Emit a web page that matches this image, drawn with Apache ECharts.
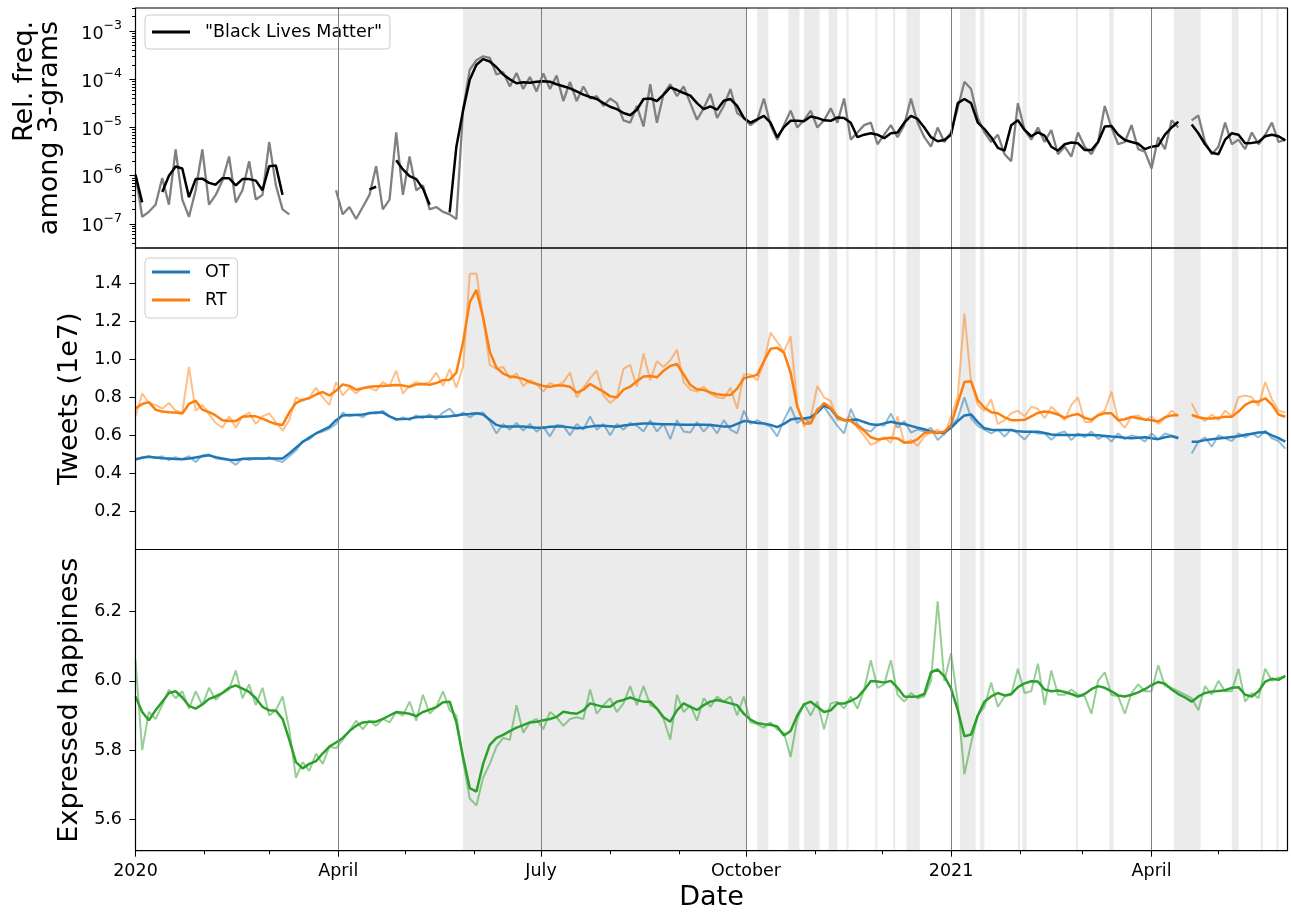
<!DOCTYPE html>
<html>
<head>
<meta charset="utf-8">
<script src="https://cdn.jsdelivr.net/npm/echarts@6/dist/echarts.min.js"></script>
<style>
  html, body { margin: 0; padding: 0; background: #fff; }
  #chart { width: 1291px; height: 913px; }
</style>
</head>
<body>
<div id="chart"></div>
<script>
const startDate = '2020-01-01';
const stepDays = 3;

// "Black Lives Matter" relative frequency among 3-grams
const blmRaw = [
  1.05e-6, 1.41e-7, 1.78e-7, 2.5e-7, 8.9e-7, 2.5e-7, 3.5e-6, 3.2e-7, 1.41e-7, 5.0e-7,
  3.5e-6, 2.5e-7, 4.0e-7, 7.9e-7, 2.5e-6, 2.8e-7, 5.0e-7, 2.0e-6, 3.2e-7, 4.0e-7,
  5.0e-6, 6.3e-7, 2.0e-7, 1.58e-7, null, null, null, null, null, null,
  5.0e-7, 1.58e-7, 2.24e-7, 1.26e-7, 2.24e-7, 4.0e-7, 1.58e-6, 2.0e-7, 3.2e-7, 7.9e-6,
  4.0e-7, 2.5e-6, 5.0e-7, 6.3e-7, 2.0e-7, 2.24e-7, 1.78e-7, 1.58e-7, 1.26e-7, 2.34e-5,
  1.58e-4, 2.5e-4, 3.0e-4, 2.8e-4, 1.26e-4, 1.41e-4, 7.1e-5, 1.35e-4, 6.3e-5, 1.12e-4,
  5.6e-5, 1.32e-4, 6.3e-5, 1.2e-4, 3.55e-5, 8.9e-5, 3.55e-5, 7.1e-5, 4.0e-5, 4.5e-5,
  2.8e-5, 4.0e-5, 3.2e-5, 1.41e-5, 1.26e-5, 2.8e-5, 1.05e-5, 7.9e-5, 1.26e-5, 5.0e-5,
  7.9e-5, 4.5e-5, 7.1e-5, 3.2e-5, 1.45e-5, 2.5e-5, 5.0e-5, 1.58e-5, 2.8e-5, 6.3e-5,
  2.0e-5, 1.58e-5, 1.12e-5, 1.41e-5, 4.0e-5, 1.12e-5, 5.6e-6, 1.12e-5, 2.24e-5, 1.0e-5,
  1.41e-5, 2.24e-5, 1.0e-5, 1.41e-5, 2.5e-5, 1.26e-5, 4.0e-5, 5.6e-6, 7.9e-6, 1.12e-5,
  1.26e-5, 4.5e-6, 7.1e-6, 1.12e-5, 6.3e-6, 1.12e-5, 4.0e-5, 1.26e-5, 6.3e-6, 4.0e-6,
  1.0e-5, 5.0e-6, 7.9e-6, 2.5e-5, 8.9e-5, 6.3e-5, 1.58e-5, 7.9e-6, 5.0e-6, 7.1e-6,
  2.8e-6, 2.0e-6, 3.2e-5, 8.9e-6, 5.6e-6, 1.0e-5, 5.0e-6, 8.9e-6, 2.8e-6, 4.0e-6,
  2.5e-6, 7.9e-6, 4.0e-6, 2.8e-6, 5.0e-6, 2.8e-5, 1.0e-5, 4.5e-6, 5.0e-6, 1.12e-5,
  3.55e-6, 3.16e-6, 1.41e-6, 6.3e-6, 3.55e-6, 1.41e-5, 1.0e-5, null, 1.41e-5, 1.78e-5,
  5.0e-6, 2.8e-6, 4.0e-6, 1.26e-5, 4.5e-6, 5.6e-6, 3.55e-6, 7.9e-6, 4.5e-6, 7.1e-6,
  1.26e-5, 5.0e-6, 5.6e-6
];
const blmSmooth = [
  1.05e-6, 2.8e-7, null, null, 4.6e-7, 1.0e-6, 1.55e-6, 1.41e-6, 3.6e-7, 8.5e-7,
  8.7e-7, 7.1e-7, 6.5e-7, 8.9e-7, 8.9e-7, 6.3e-7, 8.5e-7, 8.5e-7, 7.9e-7, 5.0e-7,
  1.58e-6, 1.62e-6, 4.0e-7, null, null, null, null, null, null, null,
  null, null, null, null, null, 5.2e-7, 5.9e-7, null, null, 2.1e-6,
  1.35e-6, 9.8e-7, 8.5e-7, 5.4e-7, 2.5e-7, null, null, 1.74e-7, 4.0e-6, 2.24e-5,
  9.8e-5, 2.0e-4, 2.63e-4, 2.34e-4, 1.78e-4, 1.26e-4, 1.0e-4, 8.3e-5, 8.7e-5, 8.5e-5,
  8.9e-5, 9.1e-5, 8.9e-5, 7.9e-5, 7.2e-5, 6.5e-5, 5.6e-5, 4.8e-5, 4.3e-5, 3.9e-5,
  3.2e-5, 2.7e-5, 2.4e-5, 2.0e-5, 1.8e-5, 2.34e-5, 3.9e-5, 4.0e-5, 3.55e-5, 4.8e-5,
  6.8e-5, 6.0e-5, 5.2e-5, 4.6e-5, 3.2e-5, 2.4e-5, 2.75e-5, 2.34e-5, 3.6e-5, 3.9e-5,
  2.8e-5, 1.58e-5, 1.26e-5, 1.48e-5, 1.74e-5, 1.26e-5, 6.3e-6, 1.02e-5, 1.38e-5, 1.38e-5,
  1.35e-5, 1.7e-5, 1.58e-5, 1.41e-5, 1.38e-5, 1.62e-5, 1.58e-5, 1.26e-5, 6.3e-6, 7.1e-6,
  7.6e-6, 7.1e-6, 6.0e-6, 7.6e-6, 7.9e-6, 1.26e-5, 1.74e-5, 1.51e-5, 1.0e-5, 6.3e-6,
  5.2e-6, 5.5e-6, 7.1e-6, 3.2e-5, 3.9e-5, 3.2e-5, 1.26e-5, 9.3e-6, 6.3e-6, 3.8e-6,
  3.3e-6, 1.12e-5, 1.41e-5, 8.9e-6, 6.6e-6, 7.9e-6, 6.8e-6, 4.0e-6, 3.3e-6, 4.5e-6,
  4.9e-6, 4.7e-6, 3.4e-6, 3.4e-6, 5.0e-6, 1.05e-5, 1.07e-5, 7.1e-6, 5.5e-6, 5.0e-6,
  4.6e-6, 3.55e-6, 4.0e-6, 4.2e-6, 7.1e-6, 1.0e-5, 1.32e-5, null, 1.15e-5, 7.6e-6,
  4.5e-6, 3.0e-6, 2.8e-6, 5.6e-6, 7.6e-6, 7.1e-6, 4.7e-6, 4.8e-6, 5.0e-6, 6.6e-6,
  7.1e-6, 6.6e-6, 5.4e-6
];

// tweets, units of 1e7
const otRaw = [
  0.47, 0.485, 0.49, 0.48, 0.49, 0.47, 0.485, 0.475, 0.49, 0.46,
  0.495, 0.50, 0.48, 0.475, 0.47, 0.445, 0.48, 0.47, 0.48, 0.475,
  0.485, 0.47, 0.46, 0.49, 0.52, 0.57, 0.58, 0.61, 0.62, 0.635,
  0.66, 0.72, 0.70, 0.71, 0.695, 0.72, 0.715, 0.73, 0.70, 0.68,
  0.695, 0.68, 0.705, 0.69, 0.71, 0.685, 0.72, 0.74, 0.70, 0.72,
  0.695, 0.715, 0.72, 0.675, 0.61, 0.66, 0.63, 0.665, 0.625, 0.66,
  0.62, 0.645, 0.595, 0.655, 0.65, 0.60, 0.66, 0.63, 0.70, 0.63,
  0.66, 0.60, 0.66, 0.63, 0.665, 0.65, 0.62, 0.68, 0.62, 0.66,
  0.58, 0.68, 0.62, 0.615, 0.67, 0.62, 0.66, 0.61, 0.68, 0.63,
  0.61, 0.73, 0.66, 0.68, 0.66, 0.645, 0.595, 0.68, 0.75, 0.665,
  0.69, 0.665, 0.74, 0.75, 0.70, 0.65, 0.61, 0.74, 0.66, 0.63,
  0.62, 0.66, 0.65, 0.715, 0.64, 0.675, 0.615, 0.63, 0.62, 0.64,
  0.575, 0.61, 0.65, 0.69, 0.80, 0.69, 0.65, 0.63, 0.61, 0.63,
  0.594, 0.63, 0.61, 0.578, 0.62, 0.61, 0.61, 0.577, 0.61, 0.62,
  0.575, 0.61, 0.59, 0.62, 0.58, 0.60, 0.567, 0.61, 0.58, 0.60,
  0.59, 0.567, 0.61, 0.58, 0.61, 0.60, 0.59, null, 0.505, 0.567,
  0.59, 0.54, 0.60, 0.585, 0.57, 0.61, 0.59, 0.61, 0.59, 0.625,
  0.585, 0.57, 0.53
];
const otSmooth = [
  0.474, 0.482, 0.488, 0.484, 0.48, 0.478, 0.476, 0.475, 0.478, 0.484,
  0.49, 0.495, 0.485, 0.478, 0.472, 0.47, 0.476, 0.479, 0.479, 0.479,
  0.479, 0.479, 0.479, 0.505, 0.535, 0.565, 0.588, 0.61, 0.627, 0.645,
  0.68, 0.705, 0.707, 0.707, 0.71, 0.716, 0.72, 0.72, 0.70, 0.685,
  0.686, 0.688, 0.695, 0.698, 0.698, 0.698, 0.698, 0.70, 0.705, 0.71,
  0.712, 0.716, 0.71, 0.682, 0.655, 0.646, 0.646, 0.646, 0.646, 0.643,
  0.64, 0.64, 0.645, 0.646, 0.646, 0.642, 0.637, 0.64, 0.646, 0.65,
  0.65, 0.648, 0.645, 0.652, 0.656, 0.66, 0.663, 0.662, 0.66, 0.658,
  0.658, 0.657, 0.656, 0.656, 0.656, 0.656, 0.654, 0.65, 0.646, 0.646,
  0.66, 0.675, 0.672, 0.665, 0.663, 0.655, 0.643, 0.66, 0.683, 0.689,
  0.689, 0.695, 0.72, 0.757, 0.74, 0.695, 0.68, 0.681, 0.683, 0.67,
  0.658, 0.654, 0.663, 0.672, 0.664, 0.66, 0.65, 0.64, 0.632, 0.62,
  0.612, 0.615, 0.64, 0.675, 0.705, 0.71, 0.67, 0.637, 0.63, 0.628,
  0.628, 0.628, 0.621, 0.619, 0.619, 0.619, 0.612, 0.605, 0.602, 0.602,
  0.602, 0.602, 0.602, 0.602, 0.60, 0.597, 0.594, 0.592, 0.588, 0.585,
  0.588, 0.59, 0.585, 0.58, 0.59, 0.596, 0.585, null, 0.567, 0.567,
  0.575, 0.58, 0.584, 0.588, 0.592, 0.595, 0.603, 0.608, 0.615, 0.617,
  0.60, 0.585, 0.567
];
const rtRaw = [
  0.70, 0.82, 0.77, 0.76, 0.74, 0.77, 0.73, 0.72, 0.96, 0.73,
  0.76, 0.71, 0.665, 0.64, 0.70, 0.64, 0.70, 0.72, 0.66, 0.70,
  0.715, 0.67, 0.625, 0.68, 0.80, 0.78, 0.80, 0.85, 0.80, 0.76,
  0.88, 0.81, 0.85, 0.82, 0.85, 0.85, 0.835, 0.88, 0.86, 0.94,
  0.82, 0.86, 0.88, 0.87, 0.88, 0.93, 0.86, 0.95, 0.85, 0.96,
  1.45, 1.45, 1.22, 0.97, 0.95, 0.96, 0.90, 0.925, 0.86, 0.89,
  0.87, 0.83, 0.874, 0.86, 0.88, 0.93, 0.80, 0.85, 0.90, 0.94,
  0.81, 0.77, 0.80, 0.95, 0.97, 0.856, 1.03, 0.89, 0.99, 0.96,
  0.995, 1.05, 0.88, 0.84, 0.83, 0.856, 0.82, 0.80, 0.795, 0.85,
  0.74, 0.92, 0.92, 0.89, 0.98, 1.14, 1.09, 1.04, 1.12, 0.76,
  0.646, 0.69, 0.86, 0.80, 0.78, 0.68, 0.68, 0.70, 0.64, 0.60,
  0.55, 0.565, 0.59, 0.56, 0.70, 0.56, 0.575, 0.545, 0.593, 0.615,
  0.63, 0.60, 0.70, 0.80, 1.24, 0.88, 0.76, 0.73, 0.79, 0.66,
  0.68, 0.716, 0.73, 0.70, 0.75, 0.74, 0.69, 0.75, 0.716, 0.68,
  0.76, 0.80, 0.67, 0.67, 0.71, 0.73, 0.83, 0.68, 0.64, 0.698,
  0.705, 0.68, 0.70, 0.66, 0.69, 0.73, 0.70, null, 0.768, 0.70,
  0.675, 0.71, 0.68, 0.73, 0.70, 0.80, 0.81, 0.80, 0.755, 0.88,
  0.79, 0.73, 0.72
];
const rtSmooth = [
  0.742, 0.765, 0.775, 0.735, 0.725, 0.722, 0.72, 0.715, 0.765, 0.782,
  0.735, 0.722, 0.705, 0.68, 0.675, 0.675, 0.698, 0.70, 0.70, 0.688,
  0.672, 0.66, 0.655, 0.72, 0.77, 0.788, 0.795, 0.815, 0.828, 0.81,
  0.835, 0.868, 0.86, 0.84, 0.848, 0.856, 0.858, 0.86, 0.862, 0.865,
  0.862, 0.855, 0.868, 0.87, 0.866, 0.875, 0.89, 0.892, 0.93, 1.09,
  1.30, 1.365, 1.22, 1.04, 0.955, 0.925, 0.91, 0.905, 0.897, 0.88,
  0.87, 0.86, 0.855, 0.862, 0.862, 0.856, 0.825, 0.84, 0.87, 0.85,
  0.83, 0.805, 0.80, 0.84, 0.856, 0.885, 0.91, 0.912, 0.905, 0.94,
  0.965, 0.975, 0.92, 0.865, 0.842, 0.839, 0.825, 0.816, 0.812, 0.812,
  0.846, 0.90, 0.909, 0.918, 0.99, 1.055, 1.06, 1.035, 0.93, 0.75,
  0.663, 0.663, 0.73, 0.77, 0.745, 0.70, 0.68, 0.675, 0.65, 0.625,
  0.59, 0.578, 0.584, 0.587, 0.584, 0.562, 0.563, 0.58, 0.612, 0.618,
  0.612, 0.62, 0.655, 0.77, 0.88, 0.885, 0.785, 0.745, 0.722, 0.716,
  0.695, 0.68, 0.68, 0.682, 0.70, 0.718, 0.725, 0.72, 0.71, 0.692,
  0.705, 0.712, 0.692, 0.682, 0.705, 0.716, 0.716, 0.68, 0.685, 0.697,
  0.69, 0.683, 0.68, 0.673, 0.695, 0.705, 0.707, null, 0.707, 0.695,
  0.689, 0.689, 0.692, 0.698, 0.698, 0.725, 0.76, 0.778, 0.777, 0.795,
  0.762, 0.71, 0.698
];

// expressed happiness
const happyRaw = [
  6.06, 5.80, 5.91, 5.89, 5.93, 5.975, 5.95, 5.97, 5.92, 5.97,
  5.93, 5.98, 5.945, 5.965, 5.975, 6.03, 5.95, 5.99, 5.93, 5.98,
  5.90, 5.915, 5.955, 5.86, 5.72, 5.765, 5.74, 5.79, 5.76, 5.81,
  5.805, 5.83, 5.855, 5.885, 5.86, 5.885, 5.87, 5.89, 5.88, 5.91,
  5.90, 5.94, 5.885, 5.96, 5.905, 5.925, 5.97, 5.915, 5.90, 5.77,
  5.66, 5.64, 5.72, 5.76, 5.81, 5.835, 5.83, 5.93, 5.85, 5.88,
  5.89, 5.86, 5.91, 5.895, 5.87, 5.89, 5.895, 5.89, 5.975, 5.905,
  5.93, 5.95, 5.91, 5.935, 5.985, 5.93, 5.985, 5.93, 5.92, 5.89,
  5.83, 5.96, 5.91, 5.93, 5.885, 5.95, 5.925, 5.955, 5.94, 5.955,
  5.90, 5.955, 5.88, 5.875, 5.865, 5.88, 5.86, 5.85, 5.78, 5.89,
  5.935, 5.90, 5.94, 5.86, 5.935, 5.94, 5.92, 5.955, 5.92, 5.975,
  6.06, 5.98, 5.99, 6.06, 5.96, 5.94, 5.965, 5.95, 5.955, 6.0,
  6.23, 6.0, 6.08, 5.94, 5.73, 5.82, 5.90, 5.925, 5.995, 5.925,
  5.955, 5.96, 6.035, 5.965, 5.97, 6.05, 5.93, 6.03, 5.96, 5.96,
  5.975, 5.96, 5.955, 5.905, 6.0, 6.025, 5.96, 5.955, 5.905, 5.965,
  5.99, 5.97, 5.97, 6.045, 5.985, 5.98, 5.97, 5.96, 5.95, 5.915,
  5.985, 5.96, 6.0, 5.97, 5.97, 6.035, 5.94, 5.965, 5.95, 6.035,
  6.0, 6.01, 6.01
];
const happySmooth = [
  5.955, 5.91, 5.886, 5.915, 5.94, 5.965, 5.97, 5.952, 5.928, 5.92,
  5.932, 5.948, 5.955, 5.965, 5.98, 5.987, 5.978, 5.968, 5.95, 5.925,
  5.915, 5.914, 5.89, 5.83, 5.765, 5.747, 5.76, 5.768, 5.79, 5.81,
  5.822, 5.835, 5.855, 5.87, 5.88, 5.882, 5.882, 5.89, 5.90, 5.91,
  5.908, 5.905, 5.898, 5.91, 5.917, 5.924, 5.938, 5.94, 5.88, 5.78,
  5.69, 5.68, 5.76, 5.815, 5.835, 5.844, 5.855, 5.865, 5.872, 5.88,
  5.882, 5.886, 5.89, 5.896, 5.911, 5.907, 5.905, 5.915, 5.935, 5.93,
  5.925, 5.925, 5.94, 5.945, 5.952, 5.945, 5.94, 5.94, 5.92, 5.895,
  5.882, 5.915, 5.935, 5.925, 5.916, 5.93, 5.94, 5.945, 5.94, 5.935,
  5.93, 5.905, 5.888, 5.878, 5.875, 5.873, 5.868, 5.842, 5.855, 5.90,
  5.932, 5.94, 5.925, 5.91, 5.915, 5.935, 5.935, 5.942, 5.952, 5.974,
  6.0, 5.998, 5.995, 6.0, 5.98, 5.955, 5.954, 5.955, 5.962, 6.025,
  6.033, 6.013, 5.978, 5.916, 5.84, 5.845, 5.90, 5.94, 5.955, 5.965,
  5.958, 5.962, 5.982, 5.993, 5.999, 5.998, 5.975, 5.97, 5.972, 5.968,
  5.962, 5.955, 5.962, 5.976, 5.985, 5.98, 5.97, 5.958, 5.955, 5.96,
  5.967, 5.976, 5.988, 5.997, 5.992, 5.975, 5.962, 5.952, 5.94, 5.955,
  5.965, 5.969, 5.971, 5.973, 5.98, 5.982, 5.96, 5.955, 5.97, 5.998,
  6.006, 6.003, 6.015
];

// shaded periods and vertical guide dates
const bands = [
  ['2020-05-27', '2020-10-01'], ['2020-10-06', '2020-10-11'], ['2020-10-20', '2020-10-25'],
  ['2020-10-27', '2020-11-03'], ['2020-11-07', '2020-11-11'], ['2020-11-15', '2020-11-16'],
  ['2020-11-28', '2020-11-29'], ['2020-12-06', '2020-12-07'], ['2020-12-12', '2020-12-18'],
  ['2021-01-05', '2021-01-12'], ['2021-01-14', '2021-01-16'], ['2021-01-31', '2021-02-01'],
  ['2021-02-02', '2021-02-04'], ['2021-02-26', '2021-02-27'], ['2021-03-13', '2021-03-15'],
  ['2021-04-11', '2021-04-23'], ['2021-05-07', '2021-05-10'], ['2021-05-20', '2021-05-21'],
  ['2021-05-27', '2021-05-28']
];
const vlineDates = ['2020-04-01', '2020-07-01', '2020-10-01', '2021-01-01', '2021-04-01'];

// ticks
const xRange = ['2020-01-01', '2021-06-01'];
const quarterDates = ['2020-01-01', '2020-04-01', '2020-07-01', '2020-10-01', '2021-01-01', '2021-04-01'];
const quarterLabels = ['2020', 'April', 'July', 'October', '2021', 'April'];
const monthDates = ['2020-02-01', '2020-03-01', '2020-05-01', '2020-06-01', '2020-08-01', '2020-09-01',
  '2020-11-01', '2020-12-01', '2021-02-01', '2021-03-01', '2021-05-01'];
const logTicks = [1e-7, 1e-6, 1e-5, 1e-4, 1e-3];
const logTickExp = ['\u22127', '\u22126', '\u22125', '\u22124', '\u22123'];
const logMinorTicks = [
  4e-8, 5e-8, 6e-8, 7e-8, 8e-8, 9e-8,
  2e-7, 3e-7, 4e-7, 5e-7, 6e-7, 7e-7, 8e-7, 9e-7,
  2e-6, 3e-6, 4e-6, 5e-6, 6e-6, 7e-6, 8e-6, 9e-6,
  2e-5, 3e-5, 4e-5, 5e-5, 6e-5, 7e-5, 8e-5, 9e-5,
  2e-4, 3e-4, 4e-4, 5e-4, 6e-4, 7e-4, 8e-4, 9e-4,
  2e-3, 3e-3
];
const tweetTicks = [0.2, 0.4, 0.6, 0.8, 1.0, 1.2, 1.4];
const happyTicks = [5.6, 5.8, 6.0, 6.2];

const FONT = 'DejaVu Sans';
const DAY = 86400000;
const ts = s => Date.parse(s + 'T00:00:00Z');
const iso = t => new Date(t).toISOString().slice(0, 10);
// one category per calendar day across the x range
const days = [];
for (let t = ts(xRange[0]); t <= ts(xRange[1]); t += DAY) days.push(iso(t));
const t0 = ts(startDate);
const sampleDays = blmRaw.map((_, i) => iso(t0 + i * stepDays * DAY));
const pairs = vals => vals.map((v, i) => [sampleDays[i], v]);

const tickStyle = { color: '#000', width: 1 };
const labelStyle = { color: '#000', fontFamily: FONT, fontSize: 17.5 };
const nameStyle = { color: '#000', fontFamily: FONT, fontSize: 27 };

const grids = [
  { left: 135.5, right: 3.5, top: 8, height: 240 },
  { left: 135.5, right: 3.5, top: 248, height: 301.5 },
  { left: 135.5, right: 3.5, top: 549.5, height: 301.2 }
].map(g => Object.assign(g, { show: true, borderColor: '#000', borderWidth: 1.2, backgroundColor: 'transparent', z: 10 }));

const catX = (gridIndex, extra) => Object.assign({
  type: 'category', gridIndex, data: days, boundaryGap: false,
  axisLine: { show: false }, axisTick: { show: false }, axisLabel: { show: false }, splitLine: { show: false }
}, extra || {});

const logMin = Math.pow(10, -7.5);
const logMax = Math.pow(10, -2.52);

const markers = (xi, yi) => ({
  type: 'line', xAxisIndex: xi, yAxisIndex: yi, data: [], z: 1, silent: true,
  markArea: {
    silent: true, itemStyle: { color: '#ebebeb' },
    data: bands.map(b => [{ xAxis: b[0] }, { xAxis: b[1] }])
  },
  markLine: {
    silent: true, symbol: ['none', 'none'], label: { show: false },
    lineStyle: { color: '#808080', width: 1, type: 'solid' },
    data: vlineDates.map(d => ({ xAxis: d }))
  }
});

const line = (name, vals, xi, yi, color, width, opacity) => ({
  name, type: 'line', xAxisIndex: xi, yAxisIndex: yi, data: pairs(vals),
  showSymbol: false, symbol: 'none', connectNulls: false, z: 2,
  itemStyle: { color }, lineStyle: { color, width, opacity }
});

const legendBox = {
  orient: 'vertical', left: 145,
  backgroundColor: 'rgba(255,255,255,0.8)', borderColor: '#cccccc', borderWidth: 1, borderRadius: 4,
  icon: 'rect', itemWidth: 38, itemHeight: 3,
  textStyle: { color: '#000', fontFamily: FONT, fontSize: 17.5, lineHeight: 22, padding: [0, 0, 0, 10] }
};

const chart = echarts.init(document.getElementById('chart'));
chart.setOption({
  animation: false,
  backgroundColor: '#fff',
  grid: grids,
  legend: [
    Object.assign({}, legendBox, { top: 15, data: ['"Black Lives Matter"'], padding: [6, 8, 6, 7] }),
    Object.assign({}, legendBox, { top: 258, data: ['OT', 'RT'], itemGap: 6, padding: [3, 8, 7, 7] })
  ],
  xAxis: [
    catX(0),
    catX(1),
    catX(2, {
      axisTick: { show: true, length: 6, lineStyle: tickStyle, interval: (i, v) => quarterDates.indexOf(v) >= 0 },
      axisLabel: Object.assign({
        show: true, margin: 12, interval: (i, v) => quarterDates.indexOf(v) >= 0,
        formatter: v => quarterLabels[quarterDates.indexOf(v)] || ''
      }, labelStyle),
      name: 'Date', nameLocation: 'middle', nameGap: 34, nameTextStyle: nameStyle
    }),
    catX(2, {
      position: 'bottom',
      axisTick: { show: true, length: 3.5, lineStyle: tickStyle, interval: (i, v) => monthDates.indexOf(v) >= 0 }
    })
  ],
  yAxis: [
    {
      type: 'log', logBase: 10, gridIndex: 0, position: 'left', min: logMin, max: logMax,
      axisLine: { show: false }, splitLine: { show: false },
      axisTick: { show: true, length: 6, lineStyle: tickStyle, customValues: logTicks },
      axisLabel: {
        show: true, margin: 13.5, customValues: logTicks,
        formatter: v => {
          const i = logTicks.findIndex(t => Math.abs(Math.log10(t) - Math.log10(v)) < 0.01);
          return i < 0 ? '' : '{b|10}{s|' + logTickExp[i] + '}';
        },
        rich: {
          b: { fontFamily: FONT, fontSize: 17.5, color: '#000', lineHeight: 24, verticalAlign: 'bottom' },
          s: { fontFamily: FONT, fontSize: 12.5, color: '#000', lineHeight: 14, verticalAlign: 'top' }
        }
      },
      name: '{a|Rel. freq.}\n{b|among 3-grams}',
      nameLocation: 'middle', nameGap: 73,
      nameTextStyle: Object.assign({
        lineHeight: 25,
        rich: {
          a: { fontFamily: FONT, fontSize: 27, lineHeight: 25, color: '#000', align: 'right' },
          b: { fontFamily: FONT, fontSize: 27, lineHeight: 25, color: '#000' }
        }
      }, nameStyle)
    },
    {
      type: 'log', logBase: 10, gridIndex: 0, position: 'left', min: logMin, max: logMax,
      axisLine: { show: false }, splitLine: { show: false }, axisLabel: { show: false },
      axisTick: { show: true, length: 3.5, lineStyle: tickStyle, customValues: logMinorTicks }
    },
    {
      type: 'value', gridIndex: 1, position: 'left', min: 0, max: 1.585,
      axisLine: { show: false }, splitLine: { show: false },
      axisTick: { show: true, length: 6, lineStyle: tickStyle, customValues: tweetTicks },
      axisLabel: Object.assign({ show: true, margin: 13.5, customValues: tweetTicks, formatter: v => v.toFixed(1) }, labelStyle),
      name: 'Tweets (1e7)', nameLocation: 'middle', nameGap: 52, nameTextStyle: nameStyle
    },
    {
      type: 'value', gridIndex: 2, position: 'left', min: 5.509, max: 6.38,
      axisLine: { show: false }, splitLine: { show: false },
      axisTick: { show: true, length: 6, lineStyle: tickStyle, customValues: happyTicks },
      axisLabel: Object.assign({ show: true, margin: 13.5, customValues: happyTicks, formatter: v => v.toFixed(1) }, labelStyle),
      name: 'Expressed happiness', nameLocation: 'middle', nameGap: 52, nameTextStyle: nameStyle
    }
  ],
  series: [
    markers(0, 0),
    line('blm daily', blmRaw, 0, 0, '#808080', 2.3, 1),
    line('"Black Lives Matter"', blmSmooth, 0, 0, '#000000', 2.5, 1),

    markers(1, 2),
    line('OT daily', otRaw, 1, 2, '#1f77b4', 2, 0.5),
    line('RT daily', rtRaw, 1, 2, '#ff7f0e', 2, 0.5),
    line('OT', otSmooth, 1, 2, '#1f77b4', 2.5, 1),
    line('RT', rtSmooth, 1, 2, '#ff7f0e', 2.5, 1),

    markers(2, 3),
    line('happiness daily', happyRaw, 2, 3, '#2ca02c', 2, 0.5),
    line('happiness', happySmooth, 2, 3, '#2ca02c', 2.5, 1)
  ]
});
</script>
</body>
</html>
